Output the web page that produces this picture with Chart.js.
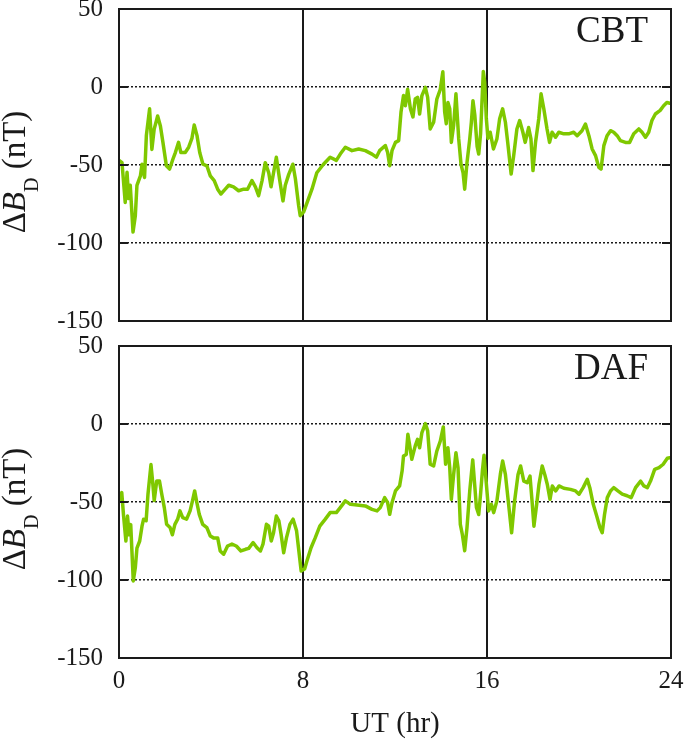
<!DOCTYPE html>
<html>
<head>
<meta charset="utf-8">
<script src="https://cdn.jsdelivr.net/npm/chart.js@4.4.1/dist/chart.umd.min.js"></script>
<style>
  body { margin: 0; background: #fff; }
  canvas { position: absolute; left: 0; }
  #cbt { top: 0; }
  #daf { top: 335px; }
</style>
</head>
<body>
<canvas id="cbt" width="685" height="335"></canvas>
<canvas id="daf" width="685" height="411"></canvas>
<script>
// Station CBT (top panel)
const cbtHours = [0, 0.13, 0.27, 0.35, 0.42, 0.49, 0.61, 0.71, 0.78, 0.93, 1.0, 1.11, 1.19, 1.33, 1.43, 1.53, 1.68, 1.8, 1.91, 2.06,
  2.2, 2.35, 2.45, 2.59, 2.69, 2.88, 3.03, 3.17, 3.27, 3.39, 3.51, 3.65, 3.82, 3.97, 4.14, 4.29, 4.43, 4.62, 4.77, 4.98,
  5.2, 5.42, 5.59, 5.78, 5.93, 6.07, 6.22, 6.36, 6.51, 6.61, 6.72, 6.84, 6.98, 7.13, 7.23, 7.38, 7.56, 7.67, 7.81, 7.88,
  8.03, 8.24, 8.39, 8.6, 8.89, 9.18, 9.45, 9.62, 9.84, 10.13, 10.42, 10.71, 11.0, 11.19, 11.33, 11.58, 11.68, 11.77, 11.87, 12.02,
  12.16, 12.26, 12.37, 12.45, 12.55, 12.67, 12.78, 12.88, 12.98, 13.07, 13.17, 13.32, 13.42, 13.53, 13.68, 13.82, 13.97, 14.08, 14.16, 14.23,
  14.3, 14.38, 14.45, 14.55, 14.65, 14.77, 14.87, 14.96, 15.03, 15.13, 15.25, 15.32, 15.39, 15.47, 15.57, 15.64, 15.72, 15.84, 15.9, 15.97,
  16.04, 16.14, 16.28, 16.43, 16.55, 16.68, 16.8, 16.9, 17.05, 17.16, 17.3, 17.42, 17.56, 17.66, 17.81, 17.91, 18.0, 18.11, 18.25, 18.35,
  18.47, 18.61, 18.72, 18.83, 18.98, 19.12, 19.34, 19.55, 19.77, 19.92, 20.13, 20.28, 20.43, 20.57, 20.72, 20.86, 20.96, 21.08, 21.22, 21.37,
  21.51, 21.66, 21.8, 22.02, 22.2, 22.38, 22.6, 22.74, 22.89, 23.03, 23.17, 23.32, 23.53, 23.68, 23.82, 24.0];
const cbtValues = [-47, -48.5, -74, -54.7, -71.5, -63, -93, -82.5, -63, -57, -49.5, -58, -31, -14, -40, -27, -18.6, -25, -35.5, -50.5,
  -52.6, -46, -42, -35.5, -42, -42, -38.6, -33, -24.4, -31, -42, -49.5, -50.5, -57, -60, -65.5, -68.6, -65.5, -63, -64,
  -66.5, -65.5, -65.5, -60, -64, -69.7, -60, -48.5, -55, -64, -55, -45, -59, -73, -63, -56, -49.5, -59, -76, -82.5,
  -80, -71.5, -65.5, -55, -49.5, -45, -47, -43, -38.6, -40.8, -39.7, -40.8, -43, -45, -40.8, -37.5, -42, -50.5, -40.8, -35.5,
  -34.4, -16.2, -5.5, -12, -1.5, -14, -19.2, -7.7, -6.6, -17.3, -5.5, -0.2, -6.6, -26.9, -22.6, -7.7, -1.5, 9.8, -16, -23.5,
  -10, -14, -35.5, -24.6, -4.4, -33.3, -49.5, -55, -65.5, -48.5, -33.3, -22.6, -8.8, -18, -38, -43, -30, 10, 3, -20,
  -33, -29, -39.7, -33.3, -20.3, -14, -22.6, -35.5, -55.8, -44, -26.9, -21.5, -29, -35.5, -26, -33.3, -53.6, -35.5, -20.3, -4.4,
  -14, -26.9, -35.5, -29, -32.2, -29, -30, -30, -29, -31.2, -28, -23.7, -31.2, -39.7, -44, -51.5, -52.6, -37.6, -31.2, -28,
  -29, -31.2, -34.4, -35.5, -35.5, -30, -26.9, -29, -32.2, -29, -21.5, -17.3, -15, -12, -9.9, -10.6];

// Station DAF (bottom panel)
const dafHours = [0, 0.12, 0.2, 0.3, 0.37, 0.44, 0.51, 0.62, 0.71, 0.78, 0.9, 1.0, 1.07, 1.18, 1.26, 1.39, 1.46, 1.53, 1.64, 1.76,
  1.86, 1.97, 2.07, 2.22, 2.32, 2.43, 2.55, 2.65, 2.77, 2.94, 3.09, 3.2, 3.29, 3.38, 3.49, 3.64, 3.82, 3.97, 4.11, 4.29,
  4.4, 4.55, 4.72, 4.91, 5.1, 5.3, 5.5, 5.64, 5.83, 6.0, 6.15, 6.26, 6.41, 6.51, 6.62, 6.72, 6.84, 6.95, 7.05, 7.16,
  7.28, 7.43, 7.57, 7.72, 7.82, 7.92, 8.07, 8.17, 8.35, 8.53, 8.73, 8.97, 9.18, 9.45, 9.62, 9.84, 10.06, 10.35, 10.71, 11.0,
  11.22, 11.36, 11.55, 11.68, 11.77, 11.87, 12.02, 12.2, 12.31, 12.37, 12.49, 12.56, 12.63, 12.73, 12.88, 12.98, 13.07, 13.17, 13.32, 13.42,
  13.53, 13.68, 13.82, 13.97, 14.1, 14.2, 14.3, 14.38, 14.45, 14.55, 14.65, 14.74, 14.84, 14.93, 15.03, 15.13, 15.25, 15.38, 15.47, 15.54,
  15.64, 15.72, 15.8, 15.87, 15.95, 16.07, 16.19, 16.29, 16.43, 16.58, 16.68, 16.8, 16.94, 17.07, 17.2, 17.35, 17.46, 17.6, 17.75, 17.87,
  17.97, 18.04, 18.16, 18.26, 18.4, 18.51, 18.62, 18.74, 18.84, 18.99, 19.13, 19.34, 19.63, 19.85, 20.0, 20.18, 20.36, 20.47, 20.62, 20.77,
  20.91, 21.01, 21.11, 21.23, 21.37, 21.51, 21.69, 21.88, 22.09, 22.27, 22.46, 22.68, 22.82, 22.97, 23.11, 23.29, 23.48, 23.66, 23.84, 24.0];
const dafValues = [-49, -44, -59, -75, -59, -71, -64.5, -100.6, -92, -79.5, -75, -65.5, -61, -62, -45, -26, -36.6, -49, -36.6, -36.6,
  -45, -53.6, -64.3, -66.4, -71, -64.3, -61, -55.7, -60, -61, -55.7, -49, -42.9, -50, -57.9, -64.3, -66.4, -71.8, -73, -73,
  -81.4, -83.5, -78.2, -77, -78.2, -81.4, -80.3, -79.7, -76, -79.3, -81.4, -77, -64.3, -65.5, -75, -69.7, -59, -62, -71, -82.5,
  -73, -64.3, -61, -68.5, -81.4, -94.2, -93, -87.8, -79.3, -73, -65.5, -61, -56.8, -56.8, -53.6, -49.3, -51.5, -51.9, -52.5, -54.7,
  -55.7, -53.6, -47.2, -50.4, -57.9, -50.4, -42.9, -39.7, -30, -20.5, -19.5, -6.6, -13, -22.6, -14, -9.8, -15.2, -5.5, 0.3, -4.4,
  -25.8, -26.9, -17.3, -10.9, -1.9, -25.8, -15.2, -28, -48.3, -32.3, -18.4, -28, -64.3, -71, -81.2, -66.4, -42.9, -23, -40, -53.5,
  -58, -45, -30, -20, -34.5, -55.7, -51.5, -56.8, -49.3, -32.3, -23.7, -32.3, -51.5, -69.7, -49.3, -32.3, -26.9, -36.6, -37.6, -33.4,
  -51.5, -65.5, -51.5, -38.6, -26.9, -32.3, -38.6, -48.3, -39.7, -42.9, -39.7, -41.2, -41.9, -42.9, -45, -40.8, -35.5, -40.8, -51.5, -59,
  -66.4, -69.7, -58, -47.2, -42.9, -40.8, -42.9, -45, -46, -47.2, -40.8, -36.6, -39.7, -40.8, -36.6, -29.1, -28, -25.8, -22, -21.5];

const xTicks = [0, 8, 16, 24];
const yTicks = [50, 0, -50, -100, -150];

const SERIF = '"Liberation Serif", "Times New Roman", serif';
const INK = '#1a1a1a';
const LINE_GREEN = '#7fc800';

// box, inward ticks, station name and the y title
const panelFrame = {
  id: 'panelFrame',
  afterDatasetsDraw(chart, args, opts) {
    const { ctx, chartArea: a, scales: { y } } = chart;
    ctx.save();
    ctx.strokeStyle = INK;
    ctx.lineWidth = 2;
    ctx.strokeRect(a.left, a.top, a.right - a.left, a.bottom - a.top);
    yTicks.forEach(v => {
      const py = y.getPixelForValue(v);
      ctx.beginPath();
      ctx.moveTo(a.left, py); ctx.lineTo(a.left + 9, py);
      ctx.moveTo(a.right, py); ctx.lineTo(a.right - 9, py);
      ctx.stroke();
    });

    ctx.fillStyle = INK;
    ctx.font = '37px ' + SERIF;
    ctx.textAlign = 'right';
    ctx.textBaseline = 'alphabetic';
    ctx.fillText(opts.label, a.right - 23, a.top + 33);

    // ΔB_D (nT), rotated
    const parts = [
      { t: '\u0394', f: '33px ' + SERIF, dy: 0 },
      { t: 'B', f: 'italic 33px ' + SERIF, dy: 0 },
      { t: 'D', f: '20px ' + SERIF, dy: 13 },
      { t: ' (nT)', f: '33px ' + SERIF, dy: 0 }
    ];
    let total = 0;
    parts.forEach(p => { ctx.font = p.f; p.w = ctx.measureText(p.t).width; total += p.w; });
    ctx.translate(25, (a.top + a.bottom) / 2 + 7);
    ctx.rotate(-Math.PI / 2);
    ctx.textAlign = 'left';
    let x = -total / 2;
    parts.forEach(p => { ctx.font = p.f; ctx.fillText(p.t, x, p.dy); x += p.w; });
    ctx.restore();
  }
};

const makeChart = (id, hours, values, label, isBottom) => {
  new Chart(document.getElementById(id), {
    type: 'line',
    data: {
      datasets: [{
        data: hours.map((h, i) => ({ x: h, y: values[i] })),
        borderColor: LINE_GREEN,
        borderWidth: 3.5,
        borderJoinStyle: 'round',
        pointRadius: 0,
        tension: 0,
        fill: false
      }]
    },
    options: {
      responsive: false,
      devicePixelRatio: 1,
      animation: false,
      layout: { padding: isBottom ? { top: 11, right: 14, bottom: 0, left: 0 } : { top: 9, right: 14, bottom: 14, left: 0 } },
      plugins: {
        legend: { display: false },
        tooltip: { enabled: false },
        panelFrame: { label: label }
      },
      scales: {
        x: {
          type: 'linear',
          min: 0,
          max: 24,
          afterBuildTicks: s => { s.ticks = xTicks.map(v => ({ value: v })); },
          afterFit: s => {
            s.height = isBottom ? 88 : 0;
            s.paddingLeft = 0; s.paddingRight = 0; s.paddingTop = 0; s.paddingBottom = 0;
          },
          ticks: {
            display: isBottom,
            color: INK,
            padding: 8,
            maxRotation: 0,
            font: { family: SERIF, size: 25 }
          },
          grid: {
            drawTicks: false,
            lineWidth: 2,
            color: c => (c.tick && (c.tick.value === 8 || c.tick.value === 16)) ? INK : 'rgba(0,0,0,0)'
          },
          border: { display: false },
          title: {
            display: isBottom,
            text: 'UT (hr)',
            color: INK,
            font: { family: SERIF, size: 29 },
            padding: { top: 0, bottom: 4 }
          }
        },
        y: {
          min: -150,
          max: 50,
          afterBuildTicks: s => { s.ticks = yTicks.map(v => ({ value: v })); },
          afterFit: s => {
            s.width = 119;
            s.paddingLeft = 0; s.paddingRight = 0; s.paddingTop = 0; s.paddingBottom = 0;
          },
          ticks: {
            color: INK,
            padding: 16,
            font: { family: SERIF, size: 25 }
          },
          grid: {
            drawTicks: false,
            lineWidth: 1.5,
            color: c => (c.tick && (c.tick.value === 50 || c.tick.value === -150)) ? 'rgba(0,0,0,0)' : INK
          },
          border: { display: false, dash: [2, 2] }
        }
      }
    },
    plugins: [panelFrame]
  });
};

makeChart('cbt', cbtHours, cbtValues, 'CBT', false);
makeChart('daf', dafHours, dafValues, 'DAF', true);
</script>
</body>
</html>
